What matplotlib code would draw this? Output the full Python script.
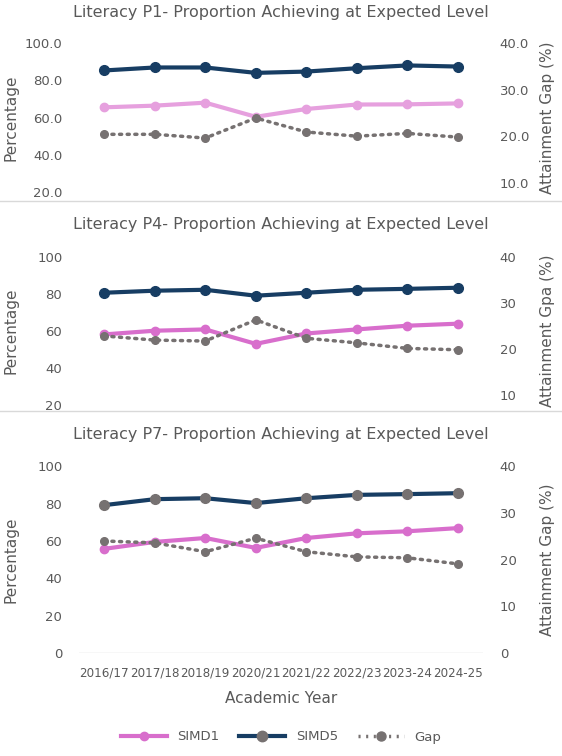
import matplotlib
matplotlib.use("Agg")
import matplotlib.pyplot as plt
from matplotlib.lines import Line2D

years = ["2016/17","2017/18","2018/19","2020/21","2021/22","2022/23","2023-24","2024-25"]
p1_simd1 = [65.5,66.4,68.0,60.4,64.6,67.0,67.1,67.6]
p1_simd5 = [85.3,86.9,86.9,84.0,84.7,86.5,88.0,87.4]
p1_gap   = [20.4,20.4,19.6,23.9,20.9,20.0,20.6,19.8]
p4_simd1 = [58.1,60.1,60.8,53.0,58.6,60.8,62.8,63.9]
p4_simd5 = [80.6,81.7,82.2,79.0,80.6,82.2,82.7,83.3]
p4_gap   = [22.8,21.9,21.7,26.3,22.3,21.3,20.1,19.8]
p7_simd1 = [55.8,59.5,61.6,56.3,61.6,64.1,65.2,66.9]
p7_simd5 = [79.2,82.4,82.9,80.3,82.9,84.7,85.1,85.6]
p7_gap   = [24.0,23.6,21.7,24.6,21.7,20.6,20.4,19.1]

PINK = "#d86ecc"; PINK_L = "#e6a0de"; NAVY = "#173d63"; GREY = "#767171"; TXT = "#595959"
fig = plt.figure(figsize=(5.62, 7.56), dpi=100)
x = list(range(len(years)))

panels = [
    ("Literacy P1- Proportion Achieving at Expected Level", p1_simd1, p1_simd5, p1_gap,
     [0.746, 0.197], (20, 100), [20,40,60,80,100], "{:.1f}", (8, 40), [10,20,30,40], "Attainment Gap (%)", PINK_L, NAVY, 12),
    ("Literacy P4- Proportion Achieving at Expected Level", p4_simd1, p4_simd5, p4_gap,
     [0.4643, 0.196], (20, 100), [20,40,60,80,100], "{:.0f}", (7.8, 40), [10,20,30,40], "Attainment Gpa (%)", PINK, NAVY, 225),
    ("Literacy P7- Proportion Achieving at Expected Level", p7_simd1, p7_simd5, p7_gap,
     [0.1362, 0.247], (0, 100), [0,20,40,60,80,100], "{:.0f}", (0, 40), [0,10,20,30,40], "Attainment Gap (%)", PINK, NAVY, 435),
]
for i, (title, s1, s5, gp, (b, h), yl, yt, fmt, yr, yrt, rlab, c1, c5, ty) in enumerate(panels):
    ax = fig.add_axes([0.1406, b, 0.719, h])
    ax2 = ax.twinx()
    ax.set_xlim(-0.5, 7.5)
    ax.set_ylim(*yl); ax2.set_ylim(*yr)
    mk5 = GREY if i == 2 else c5
    ax.plot(x, s1, color=c1, lw=3, marker="o", ms=6, zorder=3)
    ax.plot(x, s5, color=c5, lw=3, marker="o", ms=7, mfc=mk5, mec=mk5, zorder=3)
    ax2.plot(x, gp, color=GREY, lw=2.5, ls=(0, (0.6, 1.6)), dash_capstyle="round", marker="o", ms=5.5, zorder=4)
    ax.set_yticks(yt); ax.set_yticklabels([fmt.format(v) for v in yt])
    ax2.set_yticks(yrt); ax2.set_yticklabels([fmt.format(v) for v in yrt])
    for a in (ax, ax2):
        for s in a.spines.values():
            s.set_visible(False)
        a.tick_params(length=0, labelsize=9.5, colors=TXT, pad=12)
    ax.set_ylabel("Percentage", fontsize=11, color=TXT)
    ax.yaxis.set_label_coords(-0.151, 0.5)
    ax2.set_ylabel(rlab, fontsize=11, color=TXT)
    ax2.yaxis.set_label_coords(1.141, 0.5)
    if i == 2:
        ax.axhline(0, color="#d9d9d9", lw=1)
        ax.set_xticks(x); ax.set_xticklabels(years)
        ax.tick_params(axis="x", labelsize=8.6, pad=10)
        ax.set_xlabel("Academic Year", fontsize=11, color=TXT, labelpad=8)
    else:
        ax.set_xticks([])
    fig.text(0.5, 1 - ty/756, title, ha="center", va="center", fontsize=11.5, color=TXT)

for yy in (201, 411):
    fig.add_artist(Line2D([0, 1], [1 - yy/756, 1 - yy/756], color="#d9d9d9", lw=1))

handles = [Line2D([], [], color=PINK, lw=3, marker="o", ms=6),
           Line2D([], [], color=NAVY, lw=3, marker="o", ms=7.5, mfc=GREY, mec=GREY),
           Line2D([], [], color=GREY, lw=2.5, ls=(0, (0.6, 1.6)), marker="o", ms=6.5)]
fig.legend(handles, ["SIMD1", "SIMD5", "Gap"], loc="center", bbox_to_anchor=(0.5, 1 - 737/756),
           ncol=3, frameon=False, fontsize=9.5, labelcolor=TXT, handlelength=3.5, columnspacing=1.5)
fig.savefig("out.png", dpi=100)
